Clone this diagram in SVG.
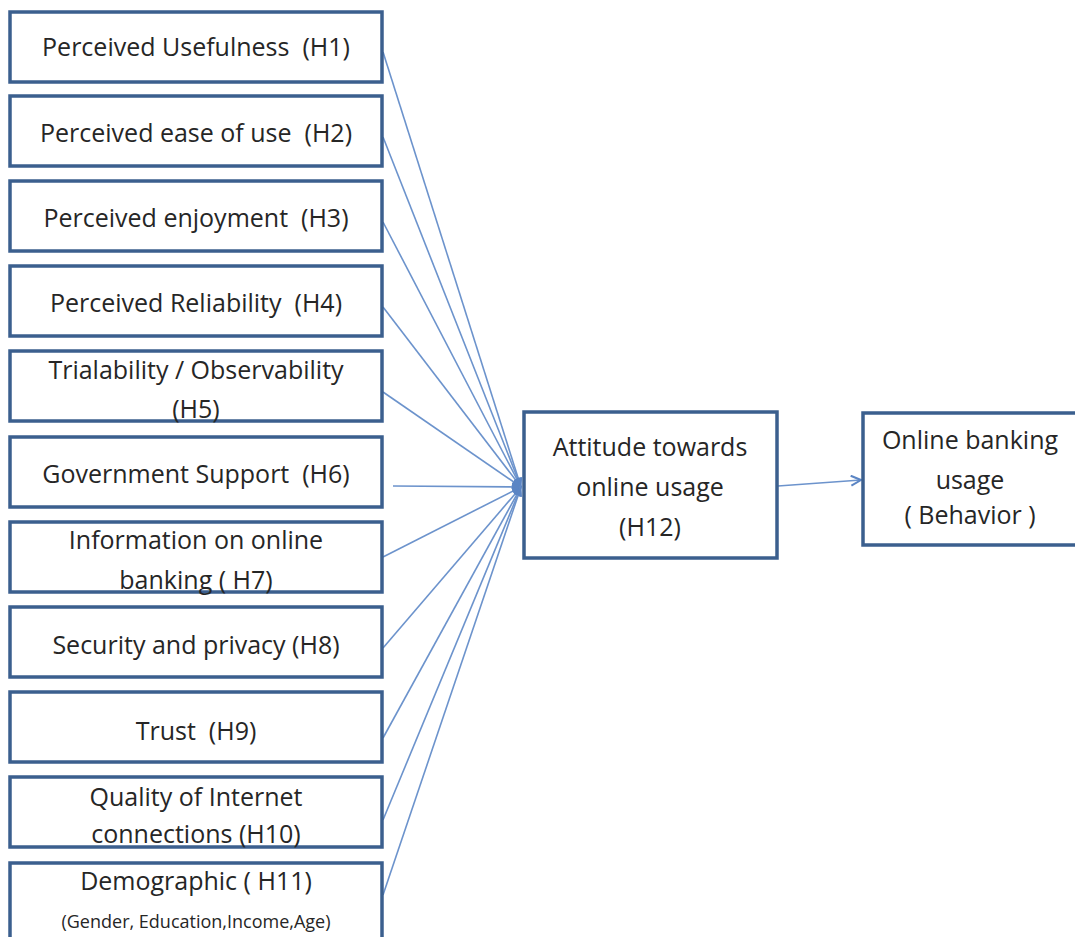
<svg xmlns="http://www.w3.org/2000/svg" width="1075" height="937" viewBox="0 0 1075 937">
<style>
.box{fill:#fff;stroke:#3b5f8e;stroke-width:3.5}
.t{font-family:"Open Sans","Liberation Sans",sans-serif;font-size:25px;fill:#262626;text-anchor:middle;white-space:pre}
.s{font-size:18px}
.c{stroke:#6c93cc;stroke-width:1.6;fill:none}
</style>
<defs>
<marker id="ah" viewBox="0 0 12 12" refX="11" refY="6" markerWidth="12" markerHeight="12" markerUnits="userSpaceOnUse" orient="auto">
<path d="M1,1 L11,6 L1,11" fill="none" stroke="#5b85c4" stroke-width="2"/>
</marker>
<marker id="af" viewBox="0 0 12 12" refX="11" refY="6" markerWidth="10" markerHeight="10" markerUnits="userSpaceOnUse" orient="auto">
<path d="M0,1 L12,6 L0,11 Z" fill="#5b85c4"/>
</marker>
</defs>
<rect width="1075" height="937" fill="#fff"/>
<g id="connectors">
<line class="c" x1="383" y1="52" x2="521" y2="487" marker-end="url(#af)"/>
<line class="c" x1="383" y1="137" x2="521" y2="487" marker-end="url(#af)"/>
<line class="c" x1="383" y1="222" x2="521" y2="487" marker-end="url(#af)"/>
<line class="c" x1="383" y1="307" x2="521" y2="487" marker-end="url(#af)"/>
<line class="c" x1="383" y1="392" x2="521" y2="487" marker-end="url(#af)"/>
<line class="c" x1="393" y1="486" x2="521" y2="487" marker-end="url(#af)"/>
<line class="c" x1="383" y1="557" x2="521" y2="487" marker-end="url(#af)"/>
<line class="c" x1="383" y1="648" x2="521" y2="487" marker-end="url(#af)"/>
<line class="c" x1="383" y1="738" x2="521" y2="487" marker-end="url(#af)"/>
<line class="c" x1="383" y1="820" x2="521" y2="487" marker-end="url(#af)"/>
<line class="c" x1="383" y1="895" x2="521" y2="487" marker-end="url(#af)"/>
<line class="c" x1="778" y1="486" x2="861" y2="480" marker-end="url(#ah)"/>
</g>
<g id="n1"><rect class="box" x="10" y="12" width="372" height="70"/><text class="t" x="196" y="56" xml:space="preserve">Perceived Usefulness  (H1)</text></g>
<g id="n2"><rect class="box" x="10" y="96" width="372" height="70"/><text class="t" x="196" y="142" xml:space="preserve">Perceived ease of use  (H2)</text></g>
<g id="n3"><rect class="box" x="10" y="181" width="372" height="70"/><text class="t" x="196" y="227" xml:space="preserve">Perceived enjoyment  (H3)</text></g>
<g id="n4"><rect class="box" x="10" y="266" width="372" height="70"/><text class="t" x="196" y="312" xml:space="preserve">Perceived Reliability  (H4)</text></g>
<g id="n5"><rect class="box" x="10" y="351" width="372" height="70"/><text class="t" x="196" y="379">Trialability / Observability</text><text class="t" x="196" y="418">(H5)</text></g>
<g id="n6"><rect class="box" x="10" y="437" width="372" height="70"/><text class="t" x="196" y="483" xml:space="preserve">Government Support  (H6)</text></g>
<g id="n7"><rect class="box" x="10" y="522" width="372" height="70"/><text class="t" x="196" y="549">Information on online</text><text class="t" x="196" y="589">banking ( H7)</text></g>
<g id="n8"><rect class="box" x="10" y="607" width="372" height="70"/><text class="t" x="196" y="654">Security and privacy (H8)</text></g>
<g id="n9"><rect class="box" x="10" y="692" width="372" height="70"/><text class="t" x="196" y="740" xml:space="preserve">Trust  (H9)</text></g>
<g id="n10"><rect class="box" x="10" y="777" width="372" height="70"/><text class="t" x="196" y="806">Quality of Internet</text><text class="t" x="196" y="843">connections (H10)</text></g>
<g id="n11"><rect class="box" x="10" y="863" width="372" height="90"/><text class="t" x="196" y="890">Demographic ( H11)</text><text class="t s" x="196" y="928">(Gender, Education,Income,Age)</text></g>
<g id="n12"><rect class="box" x="524" y="412" width="253" height="146"/><text class="t" x="650" y="456">Attitude towards</text><text class="t" x="650" y="496">online usage</text><text class="t" x="650" y="536">(H12)</text></g>
<g id="n13"><rect class="box" x="863" y="413" width="220" height="132"/><text class="t" x="970" y="449">Online banking</text><text class="t" x="970" y="489">usage</text><text class="t" x="970" y="524">( Behavior )</text></g>
</svg>
